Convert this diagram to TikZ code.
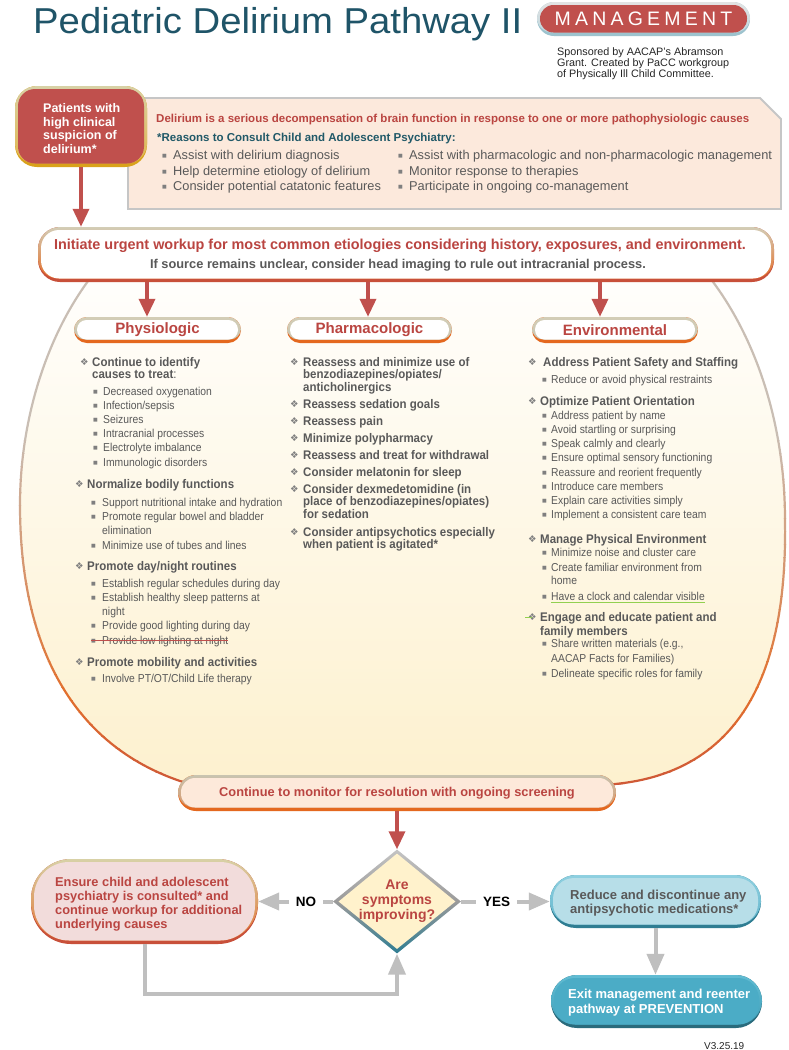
\documentclass[tikz,border=0pt]{standalone}
\usepackage{fontspec}
\usepackage{graphicx}
\setmainfont{Liberation Sans}
\newfontfamily\symf{DejaVu Sans}
\newfontfamily\nrw{Liberation Sans}[FakeStretch=0.9]
\newfontfamily\nrwb{Liberation Sans}[FakeStretch=0.92]
\usetikzlibrary{arrows.meta,shapes.geometric,calc}
\definecolor{ttl}{HTML}{1F5468}
\definecolor{redc}{HTML}{C0504D}
\definecolor{redt}{HTML}{BA4541}
\definecolor{grayt}{HTML}{595959}
\definecolor{tealh}{HTML}{215968}
\definecolor{peach}{HTML}{FCE9DC}
\definecolor{infob}{HTML}{C6C6C6}
\definecolor{cream}{HTML}{FDF0CC}
\definecolor{ovtan}{HTML}{C9BEB4}
\definecolor{ovor}{HTML}{E2702E}
\definecolor{ovred}{HTML}{C8503A}
\definecolor{rgtan}{HTML}{D3CDB6}
\definecolor{rgtan2}{HTML}{C9C4B0}
\definecolor{acor}{HTML}{E4681F}
\definecolor{pinkf}{HTML}{F2DCDB}
\definecolor{lblue}{HTML}{B7DEE8}
\definecolor{tealb}{HTML}{4BACC6}
\definecolor{tealdk}{HTML}{2F7D92}
\definecolor{lgray}{HTML}{BFBFBF}
\definecolor{yelf}{HTML}{FFF2CC}
\definecolor{grn}{HTML}{92D050}
\definecolor{monf}{HTML}{FDE9DA}
\definecolor{gold}{HTML}{D9A21B}
\definecolor{goldt}{HTML}{D8D1A6}
\definecolor{mgb}{HTML}{9DC3CE}
\definecolor{mgt}{HTML}{E3E3E3}
\definecolor{dmc}{HTML}{7F7F7F}
\definecolor{sqc}{HTML}{7F7F7F}
\definecolor{dark}{HTML}{262626}
\definecolor{rbt}{HTML}{8FD0E0}
\definecolor{rbb}{HTML}{5FB3CA}
\definecolor{ext}{HTML}{62BCD3}
\definecolor{exb}{HTML}{3F9FB8}
\definecolor{exa}{HTML}{2A6B7C}
\definecolor{dgt}{HTML}{C4C4C4}
\definecolor{dgm}{HTML}{9A9A9A}
\newcommand\dm[1][12pt]{\makebox[#1][l]{\mdseries\color{dmc}\symf\fontsize{9.5}{9.5}\selectfont\raisebox{0.3pt}{❖}}}
\newcommand\sq[1][10pt]{\makebox[#1][l]{\color{sqc}\symf\fontsize{5}{5}\selectfont\raisebox{1.6pt}{■}}}
\newcommand\ls{\kern4.2pt }
\def\ovalpath{(120,245) .. controls (60,300) and (20,400) .. (20,505) .. controls (20,650) and (75,745) .. (180,781) .. controls (280,810) and (520,805) .. (615,784) .. controls (760,770) and (787,640) .. (785,520) .. controls (785,400) and (740,300) .. (680,245) -- cycle}
\tikzset{
 ringbox/.style n args={7}{rounded corners=#5, fill=#1, inner sep=0pt,
  path picture={
   \shade[top color=#2, bottom color=#3, rounded corners=#6]
     ([yshift=3.5pt]path picture bounding box.south west) rectangle (path picture bounding box.north east);
   \fill[#4, rounded corners=#7]
     ([shift={(3pt,3.5pt)}]path picture bounding box.south west) rectangle ([shift={(-3pt,-3pt)}]path picture bounding box.north east);
  }},
 redarrow/.style={draw=redc, line width=3.5pt, -{Triangle[length=18pt,width=16pt]}},
 grayarrow/.style={draw=lgray, line width=4pt, -{Triangle[length=21pt,width=17pt]}},
 txt/.style={anchor=base west, inner sep=0pt},
 ph/.style={txt, text=grayt, font=\nrw\fontsize{11.5}{13}\selectfont},
 phb/.style={txt, text=grayt, font=\nrwb\bfseries\fontsize{12.5}{14}\selectfont},
 inf/.style={txt, text=grayt, font=\fontsize{12.8}{14}\selectfont},
 pill/.style={ringbox={acor}{rgtan}{rgtan2}{white}{13pt}{11pt}{9.5pt}, minimum height=26pt, text=redt, font=\bfseries\fontsize{15}{16}\selectfont},
 lbl/.style={fill=white, inner xsep=7pt, inner ysep=1pt, text=black, font=\bfseries\fontsize{13.5}{14}\selectfont},
}
\begin{document}
\begin{tikzpicture}[x=1pt,y=-1pt]
\useasboundingbox (0,0) rectangle (788,1050);
\fill[white] (0,0) rectangle (788,1050);
% big oval
\shade[top color=white, bottom color=cream] \ovalpath;
\begin{scope}
 \clip (0,0) rectangle (788,440.5);
 \draw[line width=2.2pt, draw=ovtan] \ovalpath;
\end{scope}
\foreach \i in {0,...,19} {
 \pgfmathsetmacro\ya{440+13*\i}
 \pgfmathsetmacro\yb{\ya+13.5}
 \pgfmathsetmacro\pc{5*\i+5}
 \begin{scope}
  \clip (0,\ya) rectangle (788,\yb);
  \draw[line width=2.2pt, draw=ovor!\pc!ovtan] \ovalpath;
 \end{scope}
}
\foreach \i in {0,...,9} {
 \pgfmathsetmacro\ya{700+12*\i}
 \pgfmathsetmacro\yb{\ya+12.5}
 \pgfmathsetmacro\pc{10*\i+10}
 \begin{scope}
  \clip (0,\ya) rectangle (788,\yb);
  \draw[line width=2.2pt, draw=ovred!\pc!ovor] \ovalpath;
 \end{scope}
}
% title
\node[txt, text=ttl, font=\fontsize{36}{40}\selectfont] (title) at (33,33) {\scalebox{1.063}[1]{Pediatric Delirium Pathway II}};
\node[ringbox={mgb}{mgt}{mgb!70!white}{redc}{17pt}{15pt}{13.5pt}, minimum width=213pt, minimum height=34pt, text=white, font=\fontsize{19.5}{20}\selectfont] (mgmt) at (643.5,19) {M\ls A\ls N\ls A\ls G\ls E\ls M\ls E\ls N\ls T};
\node[txt, text=dark, font=\fontsize{10.8}{12}\selectfont] (sp1) at (557,55) {Sponsored by AACAP’s Abramson};
\node[txt, text=dark, font=\fontsize{10.8}{12}\selectfont] (sp2) at (557,66) {Grant. Created by PaCC workgroup};
\node[txt, text=dark, font=\fontsize{10.8}{12}\selectfont] (sp3) at (557,77) {of Physically Ill Child Committee.};
% info box
\draw[line width=1.8pt, draw=infob, fill=peach] (128,98) -- (760,98) -- (781,119) -- (781,209) -- (128,209) -- cycle;
\node[txt, text=redt, font=\bfseries\fontsize{11.5}{13}\selectfont] (i1) at (156,122) {Delirium is a serious decompensation of brain function in response to one or more pathophysiologic causes};
\node[txt, text=tealh, font=\bfseries\fontsize{11.5}{13}\selectfont] (i2) at (157,141) {*Reasons to Consult Child and Adolescent Psychiatry:};
\node[inf] (i3) at (162,159.5) {\sq[11pt]Assist with delirium diagnosis};
\node[inf] (i4) at (162,175.5) {\sq[11pt]Help determine etiology of delirium};
\node[inf] (i5) at (162,190.5) {\sq[11pt]Consider potential catatonic features};
\node[inf] (i6) at (398,159.5) {\sq[11pt]Assist with pharmacologic and non-pharmacologic management};
\node[inf] (i7) at (398,175.5) {\sq[11pt]Monitor response to therapies};
\node[inf] (i8) at (398,190.5) {\sq[11pt]Participate in ongoing co-management};
% patients box
\node[ringbox={gold}{goldt}{gold!80!white}{redc}{22pt}{20pt}{17pt}, minimum width=132pt, minimum height=81pt] (pat) at (81,126.5) {};
\node[txt, text=white, font=\bfseries\fontsize{12.5}{14}\selectfont] (pt1) at (43,112) {Patients with};
\node[txt, text=white, font=\bfseries\fontsize{12.5}{14}\selectfont] (pt2) at (43,126) {high clinical};
\node[txt, text=white, font=\bfseries\fontsize{12.5}{14}\selectfont] (pt3) at (43,139.5) {suspicion of};
\node[txt, text=white, font=\bfseries\fontsize{12.5}{14}\selectfont] (pt4) at (43,153) {delirium*};
% initiate box
\node[ringbox={ovred}{rgtan}{acor}{white}{22pt}{20pt}{18pt}, minimum width=736pt, minimum height=55pt] (init) at (406,254.5) {};
\node[anchor=base, inner sep=0pt, text=redt, font=\bfseries\fontsize{14.4}{15}\selectfont] (in1) at (400,249.5) {Initiate urgent workup for most common etiologies considering history, exposures, and environment.};
\node[anchor=base, inner sep=0pt, text=grayt, font=\bfseries\fontsize{12.8}{14}\selectfont] (in2) at (398,268.5) {If source remains unclear, consider head imaging to rule out intracranial process.};
\draw[redarrow] (pat.south) -- (pat.south |- init.north);
% pills
\node[pill, minimum width=167pt] (phys) at (157.5,330) {Physiologic};
\node[pill, minimum width=165pt] (pharm) at (369.5,330) {Pharmacologic};
\node[pill, minimum width=166pt] (env) at (615,330) {Environmental};
\draw[redarrow] ([xshift=-10.5pt]phys.north |- init.south) -- ([xshift=-10.5pt]phys.north);
\draw[redarrow] ([xshift=-1.5pt]pharm.north |- init.south) -- ([xshift=-1.5pt]pharm.north);
\draw[redarrow] ([xshift=-15pt]env.north |- init.south) -- ([xshift=-15pt]env.north);
% physiologic column
\node[phb] (p1) at (80,366) {\dm[12pt]Continue to identify};
\node[phb] (p2) at (92,378) {causes to treat\mdseries:};
\node[ph] (p3) at (93,395) {\sq[10pt]Decreased oxygenation};
\node[ph] (p4) at (93,409) {\sq[10pt]Infection/sepsis};
\node[ph] (p5) at (93,423) {\sq[10pt]Seizures};
\node[ph] (p6) at (93,437) {\sq[10pt]Intracranial processes};
\node[ph] (p7) at (93,451) {\sq[10pt]Electrolyte imbalance};
\node[ph] (p8) at (93,466) {\sq[10pt]Immunologic disorders};
\node[phb] (p9) at (75,488) {\dm[12pt]Normalize bodily functions};
\node[ph] (p10) at (91,506) {\sq[11pt]Support nutritional intake and hydration};
\node[ph] (p11) at (91,520) {\sq[11pt]Promote regular bowel and bladder};
\node[ph] (p12) at (102,534) {elimination};
\node[ph] (p13) at (91,549) {\sq[11pt]Minimize use of tubes and lines};
\node[phb] (p14) at (75,570) {\dm[12pt]Promote day/night routines};
\node[ph] (p15) at (91,587) {\sq[11pt]Establish regular schedules during day};
\node[ph] (p16) at (91,601) {\sq[11pt]Establish healthy sleep patterns at};
\node[ph] (p17) at (102,615) {night};
\node[ph] (p18) at (91,629) {\sq[11pt]Provide good lighting during day};
\node[ph] (p19) at (91,644) {\sq[11pt]Provide low lighting at night};
\draw[redc, line width=0.9pt] ([yshift=3.5pt]p19.base west) -- ([yshift=3.5pt]p19.base east);
\node[phb] (p20) at (75,666) {\dm[12pt]Promote mobility and activities};
\node[ph] (p21) at (91,682) {\sq[11pt]Involve PT/OT/Child Life therapy};
% pharmacologic column
\node[phb] (q1) at (290,366) {\dm[13pt]Reassess and minimize use of};
\node[phb] (q2) at (303,378.5) {benzodiazepines/opiates/};
\node[phb] (q3) at (303,391) {anticholinergics};
\node[phb] (q4) at (290,408) {\dm[13pt]Reassess sedation goals};
\node[phb] (q5) at (290,425) {\dm[13pt]Reassess pain};
\node[phb] (q6) at (290,442) {\dm[13pt]Minimize polypharmacy};
\node[phb] (q7) at (290,459) {\dm[13pt]Reassess and treat for withdrawal};
\node[phb] (q8) at (290,476) {\dm[13pt]Consider melatonin for sleep};
\node[phb] (q9) at (290,493) {\dm[13pt]Consider dexmedetomidine (in};
\node[phb] (q10) at (303,505.5) {place of benzodiazepines/opiates)};
\node[phb] (q11) at (303,518) {for sedation};
\node[phb] (q12) at (290,536) {\dm[13pt]Consider antipsychotics especially};
\node[phb] (q13) at (303,548.5) {when patient is agitated*};
% environmental column
\node[phb] (e1) at (528,366) {\dm[15pt]Address Patient Safety and Staffing};
\node[ph] (e2) at (542,383) {\sq[9pt]Reduce or avoid physical restraints};
\node[phb] (e3) at (528,405) {\dm[12pt]Optimize Patient Orientation};
\node[ph] (e4) at (542,419) {\sq[9pt]Address patient by name};
\node[ph] (e5) at (542,433) {\sq[9pt]Avoid startling or surprising};
\node[ph] (e6) at (542,447) {\sq[9pt]Speak calmly and clearly};
\node[ph] (e7) at (542,461) {\sq[9pt]Ensure optimal sensory functioning};
\node[ph] (e8) at (542,476) {\sq[9pt]Reassure and reorient frequently};
\node[ph] (e9) at (542,490) {\sq[9pt]Introduce care members};
\node[ph] (e10) at (542,504) {\sq[9pt]Explain care activities simply};
\node[ph] (e11) at (542,518) {\sq[9pt]Implement a consistent care team};
\node[phb] (e12) at (528,543) {\dm[12pt]Manage Physical Environment};
\node[ph] (e13) at (542,556) {\sq[9pt]Minimize noise and cluster care};
\node[ph] (e14) at (542,571) {\sq[9pt]Create familiar environment from};
\node[ph] (e15) at (551,584) {home};
\node[ph] (e16) at (542,600) {\sq[9pt]Have a clock and calendar visible};
\draw[grn, line width=1pt] ([xshift=9pt,yshift=-2pt]e16.base west) -- ([yshift=-2pt]e16.base east);
\node[phb] (e17) at (528,621) {\dm[12pt]Engage and educate patient and};
\draw[grn, line width=1pt] ([xshift=-3pt,yshift=4pt]e17.base west) -- ([xshift=4pt,yshift=4pt]e17.base west);
\node[phb] (e18) at (540,635) {family members};
\node[ph] (e19) at (542,647) {\sq[9pt]Share written materials (e.g.,};
\node[ph] (e20) at (551,662) {AACAP Facts for Families)};
\node[ph] (e21) at (542,677) {\sq[9pt]Delineate specific roles for family};
% bottom flow
\node[ringbox={acor}{rgtan2}{ovor!60!rgtan2}{monf}{18pt}{16pt}{14pt}, minimum width=438pt, minimum height=36pt, text=redt, font=\bfseries\fontsize{12.8}{14}\selectfont] (mon) at (397,793) {Continue to monitor for resolution with ongoing screening};
\node[diamond, minimum width=128pt, minimum height=104pt, inner sep=0pt, top color=dgt, bottom color=tealdk, middle color=dgm,
  path picture={\fill[yelf] ([yshift=-4pt]path picture bounding box.north) -- ([xshift=-5.5pt]path picture bounding box.east) -- ([yshift=4.5pt]path picture bounding box.south) -- ([xshift=5.5pt]path picture bounding box.west) -- cycle;},
  align=center, text=redt, font=\bfseries\fontsize{14}{15}\selectfont] (dia) at (397,901.5) {\makebox[40pt]{Are}\\\makebox[40pt]{symptoms}\\\makebox[40pt]{improving?}};
\draw[redarrow] (mon.south) -- (dia.north);
\node[ringbox={ovred}{goldt}{ovor}{pinkf}{40pt}{38pt}{35pt}, minimum width=227pt, minimum height=85pt] (ens) at (144.5,901.5) {};
\node[txt, text=redt, font=\bfseries\fontsize{12.8}{14}\selectfont] (en1) at (55,886.5) {Ensure child and adolescent};
\node[txt, text=redt, font=\bfseries\fontsize{12.8}{14}\selectfont] (en2) at (55,900.5) {psychiatry is consulted* and};
\node[txt, text=redt, font=\bfseries\fontsize{12.8}{14}\selectfont] (en3) at (55,914.5) {continue workup for additional};
\node[txt, text=redt, font=\bfseries\fontsize{12.8}{14}\selectfont] (en4) at (55,928.5) {underlying causes};
\node[ringbox={tealdk}{rbt}{rbb}{lblue}{26pt}{24pt}{21pt}, minimum width=211pt, minimum height=53pt] (red) at (655.5,901.5) {};
\node[txt, text=grayt, font=\bfseries\fontsize{13}{14}\selectfont] (rd1) at (570,899.5) {Reduce and discontinue any};
\node[txt, text=grayt, font=\bfseries\fontsize{13}{14}\selectfont] (rd2) at (570,913.5) {antipsychotic medications*};
\node[ringbox={exa}{ext}{exb}{tealb}{26pt}{24pt}{21pt}, minimum width=211pt, minimum height=53pt] (exit) at (656.5,1001.5) {};
\node[txt, text=white, font=\bfseries\fontsize{13}{14}\selectfont] (ex1) at (568,998.5) {Exit management and reenter};
\node[txt, text=white, font=\bfseries\fontsize{13}{14}\selectfont] (ex2) at (568,1013.5) {pathway at PREVENTION};
\draw[grayarrow] (dia.west) -- (ens.east) node[lbl, pos=0.36] (no) {NO};
\draw[grayarrow] (dia.east) -- (red.west) node[lbl, pos=0.40] (yes) {YES};
\draw[grayarrow] (red.south) -- (red.south |- exit.north);
\coordinate (lp) at (397,994);
\draw[grayarrow] (ens.south) |- (lp) -- (dia.south);
\node[txt, text=dark, font=\fontsize{10}{11}\selectfont] (ver) at (704,1049) {V3.25.19};
\end{tikzpicture}
\end{document}
